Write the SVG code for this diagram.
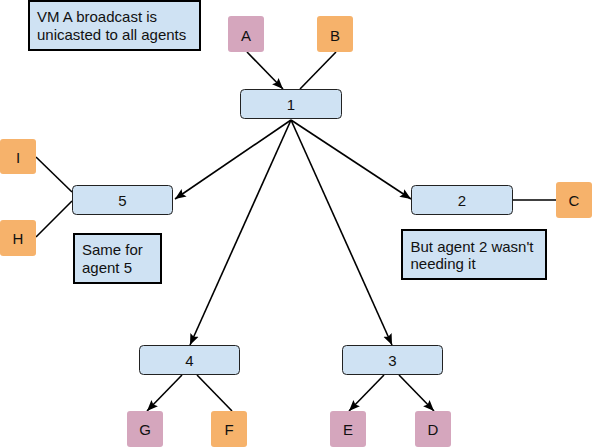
<svg xmlns="http://www.w3.org/2000/svg" width="592" height="448" viewBox="0 0 592 448">
<defs>
<marker id="arr" markerUnits="userSpaceOnUse" markerWidth="12" markerHeight="10" viewBox="0 0 12 10" refX="11" refY="5" orient="auto">
<path d="M0,0.5 L11,5 L0,9.5 L2,5 z" fill="#000"/>
</marker>
<style>
.t{font-family:"Liberation Sans",Arial,sans-serif;font-size:15px;fill:#111}
.c{text-anchor:middle}
.node{fill:#cfe2f3;stroke:#222;stroke-width:1}
.note{fill:#cfe2f3;stroke:#000;stroke-width:2}
.pink{fill:#d5a6bd}
.orange{fill:#f6b26b}
.ln{stroke:#000;stroke-width:1.6;fill:none}
.ar{stroke:#000;stroke-width:1.6;fill:none;marker-end:url(#arr)}
</style>
</defs>
<rect width="592" height="448" fill="#fff"/>
<g id="connectors">
<line class="ar" x1="247" y1="52" x2="283" y2="89"/>
<line class="ln" x1="336" y1="52" x2="300" y2="89"/>
<line class="ar" x1="291" y1="120" x2="175" y2="199"/>
<line class="ar" x1="291" y1="120" x2="411" y2="199"/>
<line class="ar" x1="291" y1="120" x2="190" y2="345"/>
<line class="ar" x1="291" y1="120" x2="392" y2="345"/>
<line class="ln" x1="36" y1="157" x2="72" y2="192"/>
<line class="ln" x1="36" y1="237" x2="72" y2="201"/>
<line class="ln" x1="513" y1="200" x2="556" y2="200"/>
<line class="ar" x1="182" y1="375" x2="147" y2="411"/>
<line class="ln" x1="197" y1="375" x2="232" y2="411"/>
<line class="ar" x1="384" y1="375" x2="349" y2="411"/>
<line class="ar" x1="399" y1="375" x2="434" y2="411"/>
</g>
<g id="note1">
<rect class="note" x="29" y="1" width="171" height="49"/>
<text class="t" x="37" y="22">VM A broadcast is</text>
<text class="t" x="37" y="39.5">unicasted to all agents</text>
</g>
<g id="nodeA"><rect class="pink" x="228" y="16" width="36" height="36" rx="3"/><text class="t c" x="246" y="40.5">A</text></g>
<g id="nodeB"><rect class="orange" x="317" y="16" width="36" height="36" rx="3"/><text class="t c" x="335" y="40.5">B</text></g>
<g id="node1"><rect class="node" x="240.5" y="89.5" width="101" height="29" rx="4"/><text class="t c" x="291" y="110">1</text></g>
<g id="nodeI"><rect class="orange" x="0" y="139" width="36" height="35" rx="3"/><text class="t c" x="18" y="162.5">I</text></g>
<g id="nodeH"><rect class="orange" x="0" y="220" width="36" height="36" rx="3"/><text class="t c" x="18" y="244">H</text></g>
<g id="node5"><rect class="node" x="72.5" y="185.5" width="100" height="29" rx="4"/><text class="t c" x="122.5" y="206">5</text></g>
<g id="note5">
<rect class="note" x="74" y="234" width="87" height="49"/>
<text class="t" x="82" y="255">Same for</text>
<text class="t" x="82" y="272.5">agent 5</text>
</g>
<g id="node2"><rect class="node" x="411.5" y="185.5" width="101" height="29" rx="4"/><text class="t c" x="462" y="206">2</text></g>
<g id="nodeC"><rect class="orange" x="556" y="182" width="36" height="36" rx="3"/><text class="t c" x="574" y="206">C</text></g>
<g id="note2">
<rect class="note" x="402" y="230" width="144" height="49"/>
<text class="t" x="410.5" y="251.5">But agent 2 wasn't</text>
<text class="t" x="410.5" y="269">needing it</text>
</g>
<g id="node4"><rect class="node" x="139.5" y="345.5" width="100" height="29" rx="4"/><text class="t c" x="189.5" y="366">4</text></g>
<g id="node3"><rect class="node" x="342.5" y="345.5" width="100" height="29" rx="4"/><text class="t c" x="392.5" y="366">3</text></g>
<g id="nodeG"><rect class="pink" x="127" y="411" width="36" height="36" rx="3"/><text class="t c" x="145" y="435">G</text></g>
<g id="nodeF"><rect class="orange" x="211" y="411" width="36" height="36" rx="3"/><text class="t c" x="229" y="435">F</text></g>
<g id="nodeE"><rect class="pink" x="330" y="411" width="36" height="36" rx="3"/><text class="t c" x="348" y="435">E</text></g>
<g id="nodeD"><rect class="pink" x="415" y="411" width="36" height="36" rx="3"/><text class="t c" x="433" y="435">D</text></g>
</svg>
